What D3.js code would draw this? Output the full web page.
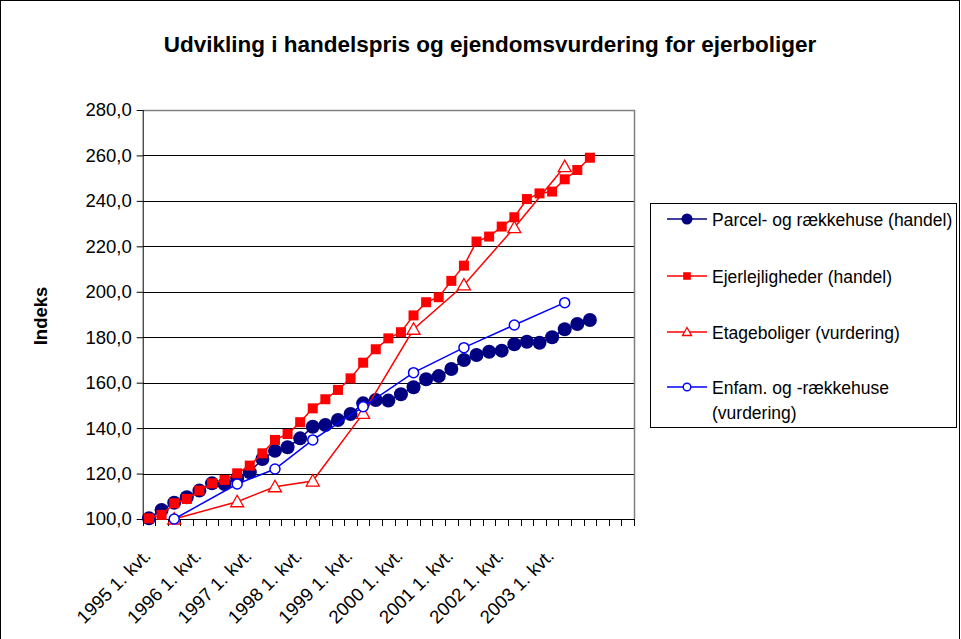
<!DOCTYPE html>
<html><head><meta charset="utf-8">
<script src="https://cdn.jsdelivr.net/npm/d3@7"></script>
<style>
body{margin:0;background:#fff;}
svg{display:block;font-family:Arial,"Liberation Sans",sans-serif;}
</style></head>
<body><svg id="c" width="961" height="639"></svg>
<script>
// ---- data ----
const years = [1995,1996,1997,1998,1999,2000,2001,2002,2003,2004];
const quarterNames = ["1. kvt.","2. kvt.","3. kvt.","4. kvt."];
const categories = [];
years.forEach(y => quarterNames.forEach(q => categories.push(y + " " + q)));
categories.length = 39;
const tickLabels = ["1995 1. kvt.","1996 1. kvt.","1997 1. kvt.","1998 1. kvt.","1999 1. kvt.","2000 1. kvt.","2001 1. kvt.","2002 1. kvt.","2003 1. kvt."];
const yTicks = [100,120,140,160,180,200,220,240,260,280];

const parcelHandel = [100.3,104.0,107.2,109.6,112.5,115.7,115.4,117.9,120.6,126.4,130.0,131.6,135.5,140.6,141.4,143.6,146.2,150.9,152.4,152.1,154.9,158.0,161.5,162.9,166.0,170.0,172.2,173.6,174.1,176.9,178.0,177.6,180.0,183.5,185.8,187.6];
const ejerlejHandel = [100.3,101.8,106.9,108.8,112.5,115.7,117.2,120.1,123.5,128.9,134.8,137.4,142.6,148.7,152.7,156.8,161.9,168.8,174.7,179.5,182.2,189.6,195.4,197.6,204.8,211.5,222.1,224.3,228.7,232.8,240.8,243.3,244.1,249.5,253.6,259.0];
const etageVurd = [null,null,100.0,null,null,null,null,107.6,null,null,114.2,null,null,116.7,null,null,null,146.5,null,null,null,183.5,null,null,null,203.0,null,null,null,228.2,null,null,null,255.1,null,null];
const enfamVurd = [null,null,100.0,null,null,null,null,115.4,null,null,122.0,null,null,134.8,null,null,null,149.4,null,null,null,164.4,null,null,null,175.4,null,null,null,185.4,null,null,null,195.2,null,null];

const seriesNames = ["Parcel- og rækkehuse (handel)","Ejerlejligheder (handel)","Etageboliger (vurdering)","Enfam. og -rækkehuse (vurdering)"];

// ---- layout ----
const svg = d3.select("#c");
const L = 142.7, R = 634, T = 110, B = 519;
const x = d3.scaleBand().domain(categories).range([L, R]).padding(0);
const y = d3.scaleLinear().domain([100, 280]).range([B, T]);
const cx = c => x(c) + x.bandwidth() / 2;
const fs = 17.5, afs = 18.5;

svg.append("rect").attr("x",0.5).attr("y",0.5).attr("width",959).attr("height",700)
  .attr("fill","#fff").attr("stroke","#000");

// title
svg.append("text").attr("x",490).attr("y",52).attr("text-anchor","middle")
  .attr("font-size",22.5).attr("font-weight","bold").text("Udvikling i handelspris og ejendomsvurdering for ejerboliger");

// y title
svg.append("text").attr("transform","translate(47,316) rotate(-90)").attr("text-anchor","middle")
  .attr("font-size",18.5).attr("font-weight","bold").text("Indeks");

// gridlines
svg.append("g").selectAll("line").data(yTicks.filter(v => v > 100 && v < 280)).join("line")
  .attr("x1",L).attr("x2",R).attr("y1",d => Math.round(y(d))+0.5).attr("y2",d => Math.round(y(d))+0.5)
  .attr("stroke","#000").attr("stroke-width",1);

// plot border top/right (gray)
svg.append("path").attr("d",`M${L},${T+0.5}H${R+0.5}V${B}`).attr("fill","none").attr("stroke","#808080").attr("stroke-width",1.5);

// y axis
const yAxis = d3.axisLeft(y).tickValues(yTicks).tickSize(6).tickPadding(5)
  .tickFormat(d => d.toFixed(1).replace(".", ","));
const gy = svg.append("g").attr("transform",`translate(${L},0)`).call(yAxis);
gy.select(".domain").attr("stroke","#000").attr("d",`M0.5,${T}V${B}`);
gy.selectAll(".tick line").attr("stroke","#000");
gy.selectAll(".tick text").attr("font-size",afs).attr("font-family","Arial,'Liberation Sans',sans-serif").attr("fill","#000");

// x axis line & ticks
svg.append("line").attr("x1",L).attr("x2",R).attr("y1",B+0.5).attr("y2",B+0.5).attr("stroke","#000");
const boundaries = categories.map(c => x(c)).concat([x.range()[1]]);
svg.append("g").selectAll("line").data(boundaries).join("line")
  .attr("x1",d => Math.round(d)+0.5).attr("x2",d => Math.round(d)+0.5)
  .attr("y1",B).attr("y2",B+7).attr("stroke","#000");
svg.append("g").selectAll("text").data(tickLabels).join("text")
  .attr("transform",d => `translate(${cx(d)+3},${B+38}) rotate(-45)`)
  .attr("text-anchor","end").attr("font-size",afs).text(d => d);

// series
const pts = arr => arr.map((v,i) => ({c: categories[i], v})).filter(d => d.v != null);
const line = d3.line().x(d => cx(d.c)).y(d => y(d.v));

function drawLine(arr, color){
  svg.append("path").datum(pts(arr)).attr("d",line).attr("fill","none")
    .attr("stroke",color).attr("stroke-width",1.5);
}

// series 1: navy circles
drawLine(parcelHandel,"#000080");
svg.append("g").selectAll("circle").data(pts(parcelHandel)).join("circle")
  .attr("cx",d => cx(d.c)).attr("cy",d => y(d.v)).attr("r",7).attr("fill","#000080");

// series 2: red squares
drawLine(ejerlejHandel,"#ff0000");
svg.append("g").selectAll("rect").data(pts(ejerlejHandel)).join("rect")
  .attr("x",d => cx(d.c)-5).attr("y",d => y(d.v)-5).attr("width",10).attr("height",10).attr("fill","#ff0000");

// series 3: red open triangles
drawLine(etageVurd,"#ff0000");
svg.append("g").selectAll("path").data(pts(etageVurd)).join("path")
  .attr("d","M0,-6.5L6.5,5L-6.5,5Z")
  .attr("transform",d => `translate(${cx(d.c)},${y(d.v)})`)
  .attr("fill","#fff").attr("stroke","#ff0000").attr("stroke-width",1.3);

// series 4: blue open circles
drawLine(enfamVurd,"#0000ff");
svg.append("g").selectAll("circle").data(pts(enfamVurd)).join("circle")
  .attr("cx",d => cx(d.c)).attr("cy",d => y(d.v)).attr("r",5).attr("fill","#fff")
  .attr("stroke","#0000ff").attr("stroke-width",1.5);

// legend
const lg = svg.append("g");
lg.append("rect").attr("x",650.5).attr("y",203.5).attr("width",306).attr("height",224)
  .attr("fill","#fff").attr("stroke","#000");
const legY = [219, 276, 332, 387];
const legColors = ["#000080","#ff0000","#ff0000","#0000ff"];
legY.forEach((ly,i) => {
  lg.append("line").attr("x1",667).attr("x2",707).attr("y1",ly).attr("y2",ly)
    .attr("stroke",legColors[i]).attr("stroke-width",1.5);
  const mx = 687;
  if(i===0) lg.append("circle").attr("cx",mx).attr("cy",ly).attr("r",5.5).attr("fill","#000080");
  if(i===1) lg.append("rect").attr("x",mx-3.8).attr("y",ly-3.8).attr("width",7.6).attr("height",7.6).attr("fill","#ff0000");
  if(i===2) lg.append("path").attr("d","M0,-4.5L4.5,3.5L-4.5,3.5Z").attr("transform",`translate(${mx},${ly})`)
      .attr("fill","#fff").attr("stroke","#ff0000").attr("stroke-width",1.3);
  if(i===3) lg.append("circle").attr("cx",mx).attr("cy",ly).attr("r",3.8).attr("fill","#fff").attr("stroke","#0000ff").attr("stroke-width",1.4);
});
const legText = [[seriesNames[0]],[seriesNames[1]],[seriesNames[2]],["Enfam. og -rækkehuse","(vurdering)"]];
legText.forEach((lines,i) => {
  const t = lg.append("text").attr("x",712).attr("y",legY[i]+6.5).attr("font-size",fs);
  lines.forEach((s,j) => t.append("tspan").attr("x",712).attr("dy", j===0 ? 0 : 25).text(s));
});
</script></body></html>
